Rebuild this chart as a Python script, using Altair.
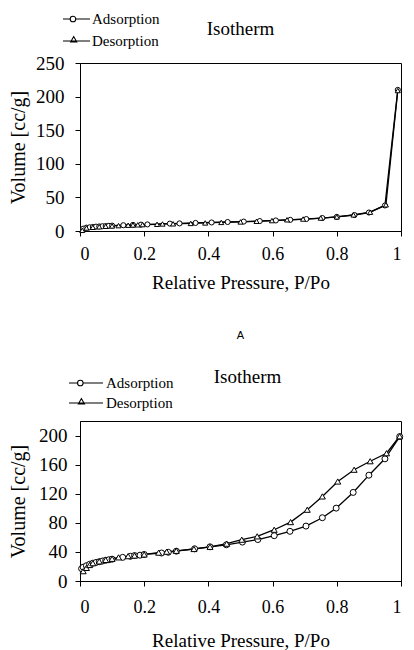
import altair as alt
import pandas as pd

SERIES = ["Adsorption", "Desorption"]
X_TICKS = [0, 0.2, 0.4, 0.6, 0.8, 1]
Y_TICKS_A = [0, 50, 100, 150, 200, 250]
Y_TICKS_B = [0, 40, 80, 120, 160, 200]
TITLE = "Isotherm"
X_TITLE = "Relative Pressure, P/Po"
Y_TITLE = "Volume [cc/g]"
PANEL_LABEL = "A"

# Sample A
a_ads_p = [0.01, 0.02, 0.03, 0.04, 0.05, 0.06, 0.07, 0.08, 0.09, 0.10, 0.135, 0.165, 0.19, 0.21,
           0.28, 0.31, 0.36, 0.41, 0.46, 0.51, 0.56, 0.61, 0.655, 0.705, 0.755, 0.80, 0.855, 0.90,
           0.95, 0.99]
a_ads_v = [3.5, 5, 5.5, 6, 6.5, 6.8, 7.1, 7.4, 7.7, 8, 8.6, 9.1, 9.5, 9.8,
           11, 11.3, 12, 12.7, 13.4, 14, 14.8, 15.7, 16.6, 17.8, 19.3, 21, 23.8, 27.5,
           38, 210]
a_des_p = [0.007, 0.02, 0.04, 0.06, 0.08, 0.10, 0.12, 0.15, 0.165, 0.18, 0.195, 0.24, 0.257,
           0.29, 0.345, 0.39, 0.44, 0.50, 0.55, 0.598, 0.645, 0.695, 0.75, 0.80, 0.852, 0.904,
           0.953, 0.99]
a_des_v = [1, 4.5, 5.5, 6.3, 7, 7.5, 8, 8.6, 9, 9.2, 9.5, 10, 10.5,
           10.7, 11.3, 12, 12.8, 13.5, 14.5, 15.5, 16.7, 17.8, 19.3, 21, 24, 28,
           39, 209]

# Sample B
b_ads_p = [0.005, 0.01, 0.02, 0.03, 0.04, 0.05, 0.06, 0.07, 0.08, 0.09, 0.10, 0.133, 0.157,
           0.17, 0.187, 0.20, 0.254, 0.275, 0.30, 0.357, 0.405, 0.456, 0.506, 0.554, 0.605,
           0.654, 0.704, 0.755, 0.798, 0.851, 0.90, 0.95, 0.996]
b_ads_v = [17, 19, 21, 23, 24.5, 25.5, 26.5, 27.5, 28.5, 29.2, 30, 32.5, 34,
           35, 35.5, 36.5, 38.5, 39.5, 41, 44.3, 47, 49.8, 53.5, 57, 62.3,
           68.3, 75.5, 87, 100.2, 121.8, 145.5, 168, 198.6]
b_des_p = [0.01, 0.02, 0.03, 0.04, 0.06, 0.08, 0.10, 0.12, 0.15, 0.17, 0.20, 0.245, 0.27,
           0.30, 0.355, 0.405, 0.457, 0.504, 0.552, 0.605, 0.656, 0.708, 0.755, 0.803, 0.854,
           0.904, 0.955, 0.996]
b_des_v = [13.5, 18, 22, 24.5, 27, 29, 30.5, 32.5, 34.2, 35, 36.5, 39, 40.3,
           41.5, 44, 47, 51.3, 56.8, 61.4, 70.5, 81, 98, 116.3, 136.8, 153,
           164.7, 175.7, 199]

SERIF = "Liberation Serif"
WIDTH = 321


def frame(ads_p, ads_v, des_p, des_v):
    return pd.concat([
        pd.DataFrame({"p": ads_p, "v": ads_v, "series": SERIES[0]}),
        pd.DataFrame({"p": des_p, "v": des_v, "series": SERIES[1]}),
    ], ignore_index=True)


def circle_sym(start, cx, end, r=0.31):
    return (f"M{start},0L{cx - r:.2f},0M{cx + r:.2f},0L{end},0"
            f"M{cx + r:.2f},0A{r},{r} 0 1,1 {cx - r:.2f},0A{r},{r} 0 1,1 {cx + r:.2f},0Z")


def tri_sym(start, cx, end, hw=0.34, h=0.6):
    return (f"M{start},0L{end},0"
            f"M{cx - hw:.2f},0.1L{cx:.2f},{0.1 - h:.2f}L{cx + hw:.2f},0.1Z")


def panel(df, ymax, yticks, height, lx, ly, row_pad, start, cx_c, cx_t, end,
          t_off, t_dx, xlp, xtp, ylp, ytp, pt_size, label=None):
    x = alt.X("p:Q", scale=alt.Scale(domain=[0, 1], nice=False, zero=False),
              axis=alt.Axis(values=X_TICKS, format="~g", title=X_TITLE,
                            labelPadding=xlp, titlePadding=xtp))
    y = alt.Y("v:Q", scale=alt.Scale(domain=[0, ymax], nice=False),
              axis=alt.Axis(values=yticks, title=Y_TITLE,
                            labelPadding=ylp, titlePadding=ytp))
    base = alt.Chart(df)
    lines = base.mark_line(color="black", strokeWidth=1.3).encode(
        x=x, y=y, detail="series:N")
    pts = base.mark_point(filled=True, fill="white", stroke="black", strokeWidth=1,
                          size=pt_size, opacity=1).encode(
        x=x, y=y,
        shape=alt.Shape("series:N",
                        scale=alt.Scale(domain=SERIES, range=["circle", "triangle-up"]),
                        legend=None))
    leg = base.mark_point(opacity=0, size=1).encode(
        x=x, y=y,
        shape=alt.Shape("series:N",
                        scale=alt.Scale(domain=SERIES,
                                        range=[circle_sym(start, cx_c, end),
                                               tri_sym(start, cx_t, end)]),
                        legend=alt.Legend(orient="none", legendX=lx, legendY=ly, title=None,
                                          padding=0, symbolSize=324, symbolOpacity=1,
                                          symbolFillColor="white", symbolStrokeColor="black",
                                          symbolStrokeWidth=1.1, labelFont=SERIF,
                                          labelFontSize=15, labelColor="black",
                                          labelOffset=2, rowPadding=row_pad)))
    ttl = alt.Chart(pd.DataFrame({"t": [TITLE]})).mark_text(
        font=SERIF, fontSize=19, color="black", baseline="alphabetic", align="center").encode(
        text="t:N", x=alt.value(WIDTH / 2 + t_dx), y=alt.value(-t_off))
    layers = [lines, pts, leg, ttl]
    if label:
        txt = alt.Chart(pd.DataFrame({"t": [label]})).mark_text(
            font="Liberation Sans", fontSize=11, color="black").encode(
            text="t:N", x=alt.value(WIDTH / 2), y=alt.value(height + 105))
        layers.append(txt)
    return alt.layer(*layers).resolve_scale(shape="independent").resolve_legend(
        shape="independent").properties(width=WIDTH, height=height)


top = panel(frame(a_ads_p, a_ads_v, a_des_p, a_des_v), 250, Y_TICKS_A, 168,
            lx=-10, ly=-54, row_pad=4, start=-1.89, cx_c=-0.78, cx_t=-0.7, end=1.11,
            t_off=28, t_dx=0, xlp=9, xtp=10, ylp=11, ytp=7, pt_size=26, label=PANEL_LABEL)
bottom = panel(frame(b_ads_p, b_ads_v, b_des_p, b_des_v), 220, Y_TICKS_B, 160,
               lx=4, ly=-48, row_pad=2, start=-2.78, cx_c=-1.52, cx_t=-1.4, end=1.0,
               t_off=38, t_dx=7, xlp=12, xtp=15, ylp=8, ytp=10, pt_size=36)

chart = alt.vconcat(top, bottom, spacing=25).properties(
    padding=0, background="white"
).configure_view(stroke="black", strokeWidth=1).configure_axis(
    grid=False, domainColor="black", tickColor="black", tickSize=5,
    labelColor="black", titleColor="black", labelFont=SERIF, titleFont=SERIF,
    titleFontWeight="normal"
).configure_axisX(labelFontSize=18, titleFontSize=19).configure_axisY(
    labelFontSize=19, titleFontSize=20
).configure_legend(labelFont=SERIF, labelFontSize=15, labelColor="black")

chart.save("out.html", embed_options={"renderer": "svg", "actions": False})
